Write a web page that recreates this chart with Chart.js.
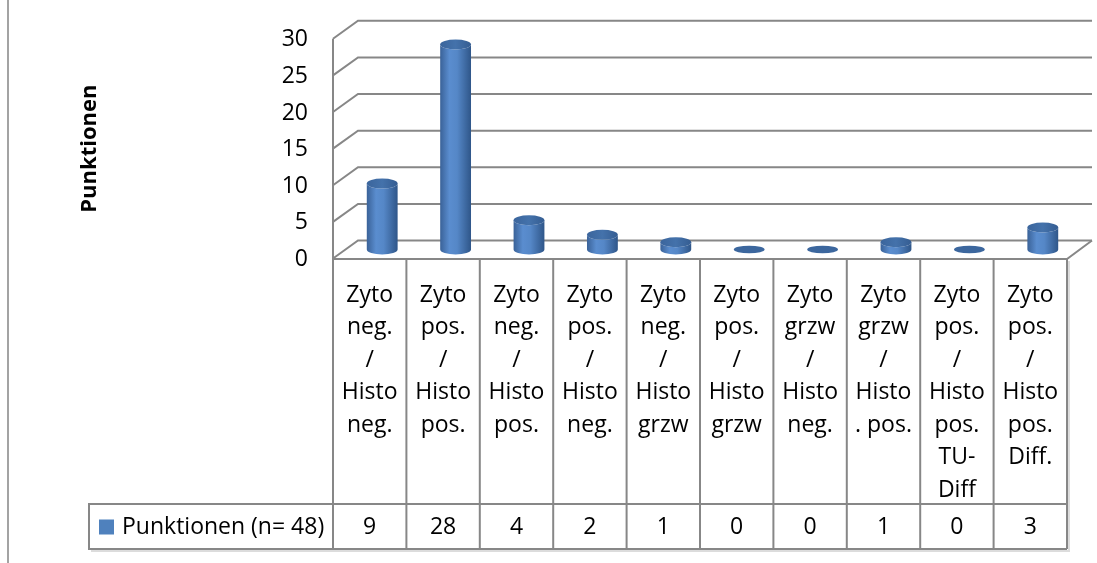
<!DOCTYPE html>
<html>
<head>
<meta charset="utf-8">
<title>Punktionen</title>
<script src="https://cdn.jsdelivr.net/npm/chart.js@4.4.1/dist/chart.umd.min.js"></script>
<style>
  html, body { margin: 0; padding: 0; background: #ffffff; }
  #wrap { width: 1097px; height: 563px; position: relative; }
</style>
</head>
<body>
<div id="wrap"><canvas id="chart" width="1097" height="563"></canvas></div>
<script>
// ---- data ----
const categories = [
  ['Zyto', 'neg.', '/', 'Histo', 'neg.'],
  ['Zyto', 'pos.', '/', 'Histo', 'pos.'],
  ['Zyto', 'neg.', '/', 'Histo', 'pos.'],
  ['Zyto', 'pos.', '/', 'Histo', 'neg.'],
  ['Zyto', 'neg.', '/', 'Histo', 'grzw'],
  ['Zyto', 'pos.', '/', 'Histo', 'grzw'],
  ['Zyto', 'grzw', '/', 'Histo', 'neg.'],
  ['Zyto', 'grzw', '/', 'Histo', '. pos.'],
  ['Zyto', 'pos.', '/', 'Histo', 'pos.', 'TU-', 'Diff'],
  ['Zyto', 'pos.', '/', 'Histo', 'pos.', 'Diff.']
];
const values = [9, 28, 4, 2, 1, 0, 0, 1, 0, 3];
const seriesName = 'Punktionen (n= 48)';
const axisTitle = 'Punktionen';
const yMin = 0;
const yMax = 30;
const yStep = 5;

// ---- styling ----
const FONT = '"Open Sans", "Noto Sans", sans-serif';
const FONT_SIZE = 23;
const GRID = '#878787';
const SERIES_COLOR = '#4f81bd';
const DEPTH_X = 25;     // oblique depth of the back wall
const DEPTH_Y = -18;
const LINE_H = 32.5;    // line spacing of the data-table labels

function cylinder(ctx, cx, top, base, w) {
  const rx = w / 2, ry = 5;
  const l = cx - rx, r = cx + rx;
  if (base - top < 0.5) {
    ctx.fillStyle = '#3c679e';
    ctx.beginPath();
    ctx.ellipse(cx, base, rx, ry * 0.75, 0, 0, Math.PI * 2);
    ctx.fill();
    return;
  }
  const g = ctx.createLinearGradient(l, 0, r, 0);
  g.addColorStop(0, '#3a6298');
  g.addColorStop(0.3, '#5a8dcf');
  g.addColorStop(0.55, '#5587c7');
  g.addColorStop(1, '#2f5689');
  ctx.fillStyle = g;
  ctx.beginPath();
  ctx.moveTo(l, top);
  ctx.lineTo(l, base);
  ctx.ellipse(cx, base, rx, ry, 0, Math.PI, 0, true);
  ctx.lineTo(r, top);
  ctx.ellipse(cx, top, rx, ry, 0, 0, Math.PI, false);
  ctx.closePath();
  ctx.fill();
  const t = ctx.createLinearGradient(l, 0, r, 0);
  t.addColorStop(0, '#3b659c');
  t.addColorStop(0.5, '#4472ab');
  t.addColorStop(1, '#355d92');
  ctx.fillStyle = t;
  ctx.beginPath();
  ctx.ellipse(cx, top, rx, ry, 0, 0, Math.PI * 2);
  ctx.fill();
}

const excel3d = {
  id: 'excel3d',
  beforeDatasetsDraw(chart) {
    const ctx = chart.ctx;
    const a = chart.chartArea;
    const y = chart.scales.y;
    ctx.save();
    // outer frame edge
    ctx.strokeStyle = '#a3a3a3';
    ctx.lineWidth = 2;
    ctx.beginPath();
    ctx.moveTo(8, 0); ctx.lineTo(8, chart.height);
    ctx.stroke();

    ctx.strokeStyle = GRID;
    ctx.lineWidth = 2;
    ctx.lineCap = 'butt';
    // side-wall diagonals and back-wall gridlines
    for (let v = yMin; v <= yMax; v += yStep) {
      const py = y.getPixelForValue(v);
      ctx.beginPath();
      ctx.moveTo(a.left, py);
      ctx.lineTo(a.left + DEPTH_X, py + DEPTH_Y);
      ctx.lineTo(a.right + DEPTH_X, py + DEPTH_Y);
      ctx.stroke();
    }
    // front value axis
    ctx.beginPath();
    ctx.moveTo(a.left, y.getPixelForValue(yMax));
    ctx.lineTo(a.left, a.bottom + 1);
    ctx.stroke();
    // floor front and right edges
    const fy = a.bottom + 0.5;
    ctx.beginPath();
    ctx.moveTo(a.left, fy);
    ctx.lineTo(a.right, fy);
    ctx.lineTo(a.right + DEPTH_X, y.getPixelForValue(yMin) + DEPTH_Y);
    ctx.stroke();
    ctx.restore();
  },
  beforeDatasetDraw(chart, args) {
    const ctx = chart.ctx;
    const meta = args.meta;
    ctx.save();
    meta.data.forEach((bar) => {
      const p = bar.getProps(['x', 'y', 'base', 'width'], true);
      cylinder(ctx, p.x + DEPTH_X / 2, p.y + DEPTH_Y / 2, p.base + DEPTH_Y / 2, p.width);
    });
    ctx.restore();
    return false;
  },
  afterDraw(chart) {
    const ctx = chart.ctx;
    const a = chart.chartArea;
    const xs = chart.scales.x;
    const n = categories.length;
    const colW = (a.right - a.left) / n;
    const top = a.bottom + 0.5;
    const legTop = top + 245;
    const bottom = legTop + 45;
    const legLeft = 89;

    ctx.save();
    // faint shadow of the table
    ctx.strokeStyle = '#dcdcdc';
    ctx.lineWidth = 2;
    ctx.beginPath();
    ctx.moveTo(legLeft + 2, bottom + 2);
    ctx.lineTo(a.right + 2, bottom + 2);
    ctx.lineTo(a.right + 2, top + 2);
    ctx.stroke();

    ctx.strokeStyle = GRID;
    ctx.lineWidth = 2;
    for (let i = 0; i <= n; i++) {
      const x = a.left + i * colW;
      ctx.beginPath();
      ctx.moveTo(x, top);
      ctx.lineTo(x, bottom);
      ctx.stroke();
    }
    ctx.beginPath();
    ctx.moveTo(legLeft, legTop); ctx.lineTo(a.right, legTop);
    ctx.moveTo(legLeft, bottom); ctx.lineTo(a.right, bottom);
    ctx.moveTo(legLeft, legTop - 1); ctx.lineTo(legLeft, bottom + 1);
    ctx.stroke();

    ctx.fillStyle = '#000000';
    ctx.font = FONT_SIZE + 'px ' + FONT;
    ctx.textAlign = 'center';
    ctx.textBaseline = 'middle';
    categories.forEach((lines, i) => {
      const cx = xs.getPixelForValue(i);
      lines.forEach((s, k) => ctx.fillText(s, cx, top + 36 + k * LINE_H));
    });
    const vy = (legTop + bottom) / 2 + 1;
    values.forEach((v, i) => ctx.fillText(String(v), xs.getPixelForValue(i), vy));

    // series key
    ctx.fillStyle = SERIES_COLOR;
    ctx.fillRect(legLeft + 10, vy - 8, 15, 15);
    ctx.fillStyle = '#000000';
    ctx.textAlign = 'left';
    ctx.fillText(seriesName, legLeft + 33, vy);
    ctx.restore();
  }
};

new Chart(document.getElementById('chart'), {
  type: 'bar',
  data: {
    labels: categories,
    datasets: [{
      label: seriesName,
      data: values,
      backgroundColor: SERIES_COLOR,
      barPercentage: 0.42,
      categoryPercentage: 1
    }]
  },
  options: {
    responsive: false,
    animation: false,
    devicePixelRatio: 1,
    layout: { padding: { left: 0, top: 32.5, right: 30, bottom: 0 } },
    plugins: { legend: { display: false }, tooltip: { enabled: false } },
    scales: {
      x: {
        grid: { display: false, drawTicks: false },
        border: { display: false },
        ticks: { display: false },
        afterFit(scale) { scale.height = 563 - 258.5; }
      },
      y: {
        min: yMin,
        max: yMax,
        grid: { display: false, drawTicks: false },
        border: { display: false },
        ticks: {
          stepSize: yStep,
          padding: 25,
          labelOffset: 1,
          color: '#000000',
          font: { family: FONT, size: FONT_SIZE }
        },
        title: {
          display: true,
          text: axisTitle,
          color: '#000000',
          font: { family: FONT, size: 22, weight: 'bold' },
          padding: { top: 77, bottom: 0 }
        },
        afterFit(scale) { scale.width = 333; }
      }
    }
  },
  plugins: [excel3d]
});
</script>
</body>
</html>
